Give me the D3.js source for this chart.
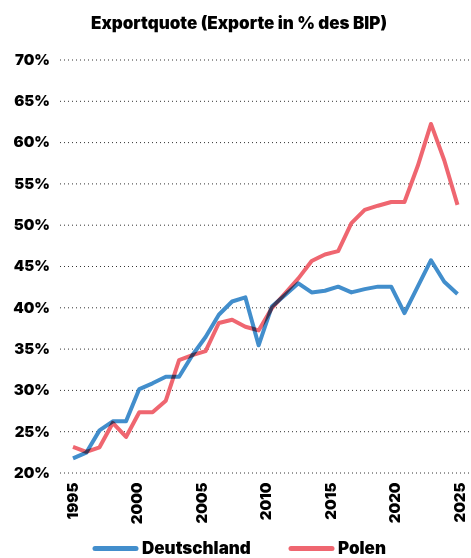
<!DOCTYPE html>
<html>
<head>
<meta charset="utf-8">
<script src="https://cdn.jsdelivr.net/npm/d3@7"></script>
<style>
  body { margin: 0; background: #fff; }
  text { font-family: Inter, "Noto Sans", sans-serif; font-weight: 900; fill: #000; }
  .line { fill: none; stroke-width: 4; stroke-linejoin: round; mix-blend-mode: multiply; }
</style>
</head>
<body>
<div id="chart"></div>
<script>
// data
var years = d3.range(1995, 2025)
var deutschland = [21.7, 22.4, 25.1, 26.2, 26.2, 30.1, 30.8, 31.6, 31.6, 34.2,
                   36.4, 39.1, 40.7, 41.2, 35.4, 40.1, 41.5, 42.9, 41.8, 42.0,
                   42.5, 41.8, 42.2, 42.5, 42.5, 39.3, 42.5, 45.7, 43.1, 41.6]
var polen = [23.1, 22.5, 23.05, 26.0, 24.3, 27.3, 27.3, 28.7, 33.6, 34.2,
             34.7, 38.1, 38.5, 37.65, 37.2, 39.9, 41.7, 43.5, 45.6, 46.4,
             46.8, 50.2, 51.8, 52.3, 52.75, 52.75, 57.1, 62.2, 57.8, 52.4]
var yTicks = [20, 25, 30, 35, 40, 45, 50, 55, 60, 65, 70]
var xTicks = [1995, 2000, 2005, 2010, 2015, 2020, 2025]
var seriesNames = ["Deutschland", "Polen"]
var seriesColors = ["#428ecc", "#ef6670"]

var width = 471, height = 558

var svg = d3.select("#chart")
    .append("svg")
    .attr("width", width)
    .attr("height", height)

var y = d3.scaleLinear()
    .domain([20, 70])
    .range([472.5, 59.5])

// the axis labels and the line points are not spaced quite the same in the original
var xAxisScale = d3.scaleLinear()
    .domain([1995, 2025])
    .range([72, 459])
var x = d3.scaleLinear()
    .domain([1995, 2024])
    .range([73, 457.5])

// title
svg.append("text")
    .attr("x", 239)
    .attr("y", 28.5)
    .attr("text-anchor", "middle")
    .style("font-size", "17px")
    .text("Exportquote (Exporte in % des BIP)")

// y axis with dotted grid
var yAxis = d3.axisLeft(y)
    .tickValues(yTicks)
    .tickSize(-(width - 60))
    .tickPadding(10)
    .tickFormat(d => d + "%")

svg.append("g")
    .attr("transform", "translate(60,0)")
    .call(yAxis)
    .call(g => g.select(".domain").remove())
    .call(g => g.selectAll(".tick line")
        .attr("stroke", "#333")
        .attr("stroke-width", 1)
        .attr("stroke-dasharray", "1,3"))
    .call(g => g.selectAll(".tick text")
        .attr("font-size", null)
        .style("font-size", "15px")
        .attr("fill", "#000"))

// x axis, rotated labels
var xAxis = d3.axisBottom(xAxisScale)
    .tickValues(xTicks)
    .tickSize(0)
    .tickFormat(d3.format("d"))

svg.append("g")
    .attr("transform", "translate(0,472.5)")
    .call(xAxis)
    .call(g => g.select(".domain").remove())
    .call(g => g.selectAll(".tick text")
        .attr("font-size", null)
        .style("font-size", "15px")
        .attr("fill", "#000")
        .attr("transform", "rotate(-90)")
        .attr("text-anchor", "end")
        .attr("x", -10)
        .attr("y", 0)
        .attr("dy", "0.36em"))

// lines
var line = d3.line()
    .x((d, i) => x(years[i]))
    .y(d => y(d))

var plot = svg.append("g").style("isolation", "isolate")

plot.selectAll(".line")
    .data([deutschland, polen])
    .enter().append("path")
    .attr("class", "line")
    .attr("stroke", (d, i) => seriesColors[i])
    .attr("d", line)

// legend
var legendX = [95, 291]
var legend = svg.selectAll(".legend")
    .data(seriesNames)
    .enter().append("g")
    .attr("class", "legend")
    .attr("transform", (d, i) => "translate(" + legendX[i] + ",548.5)")

legend.append("line")
    .attr("x1", 0)
    .attr("x2", 41)
    .attr("stroke", (d, i) => seriesColors[i])
    .attr("stroke-width", 5)
    .attr("stroke-linecap", "round")

legend.append("text")
    .attr("x", 47)
    .attr("y", 5.5)
    .style("font-size", "17px")
    .text(d => d)
</script>
</body>
</html>
